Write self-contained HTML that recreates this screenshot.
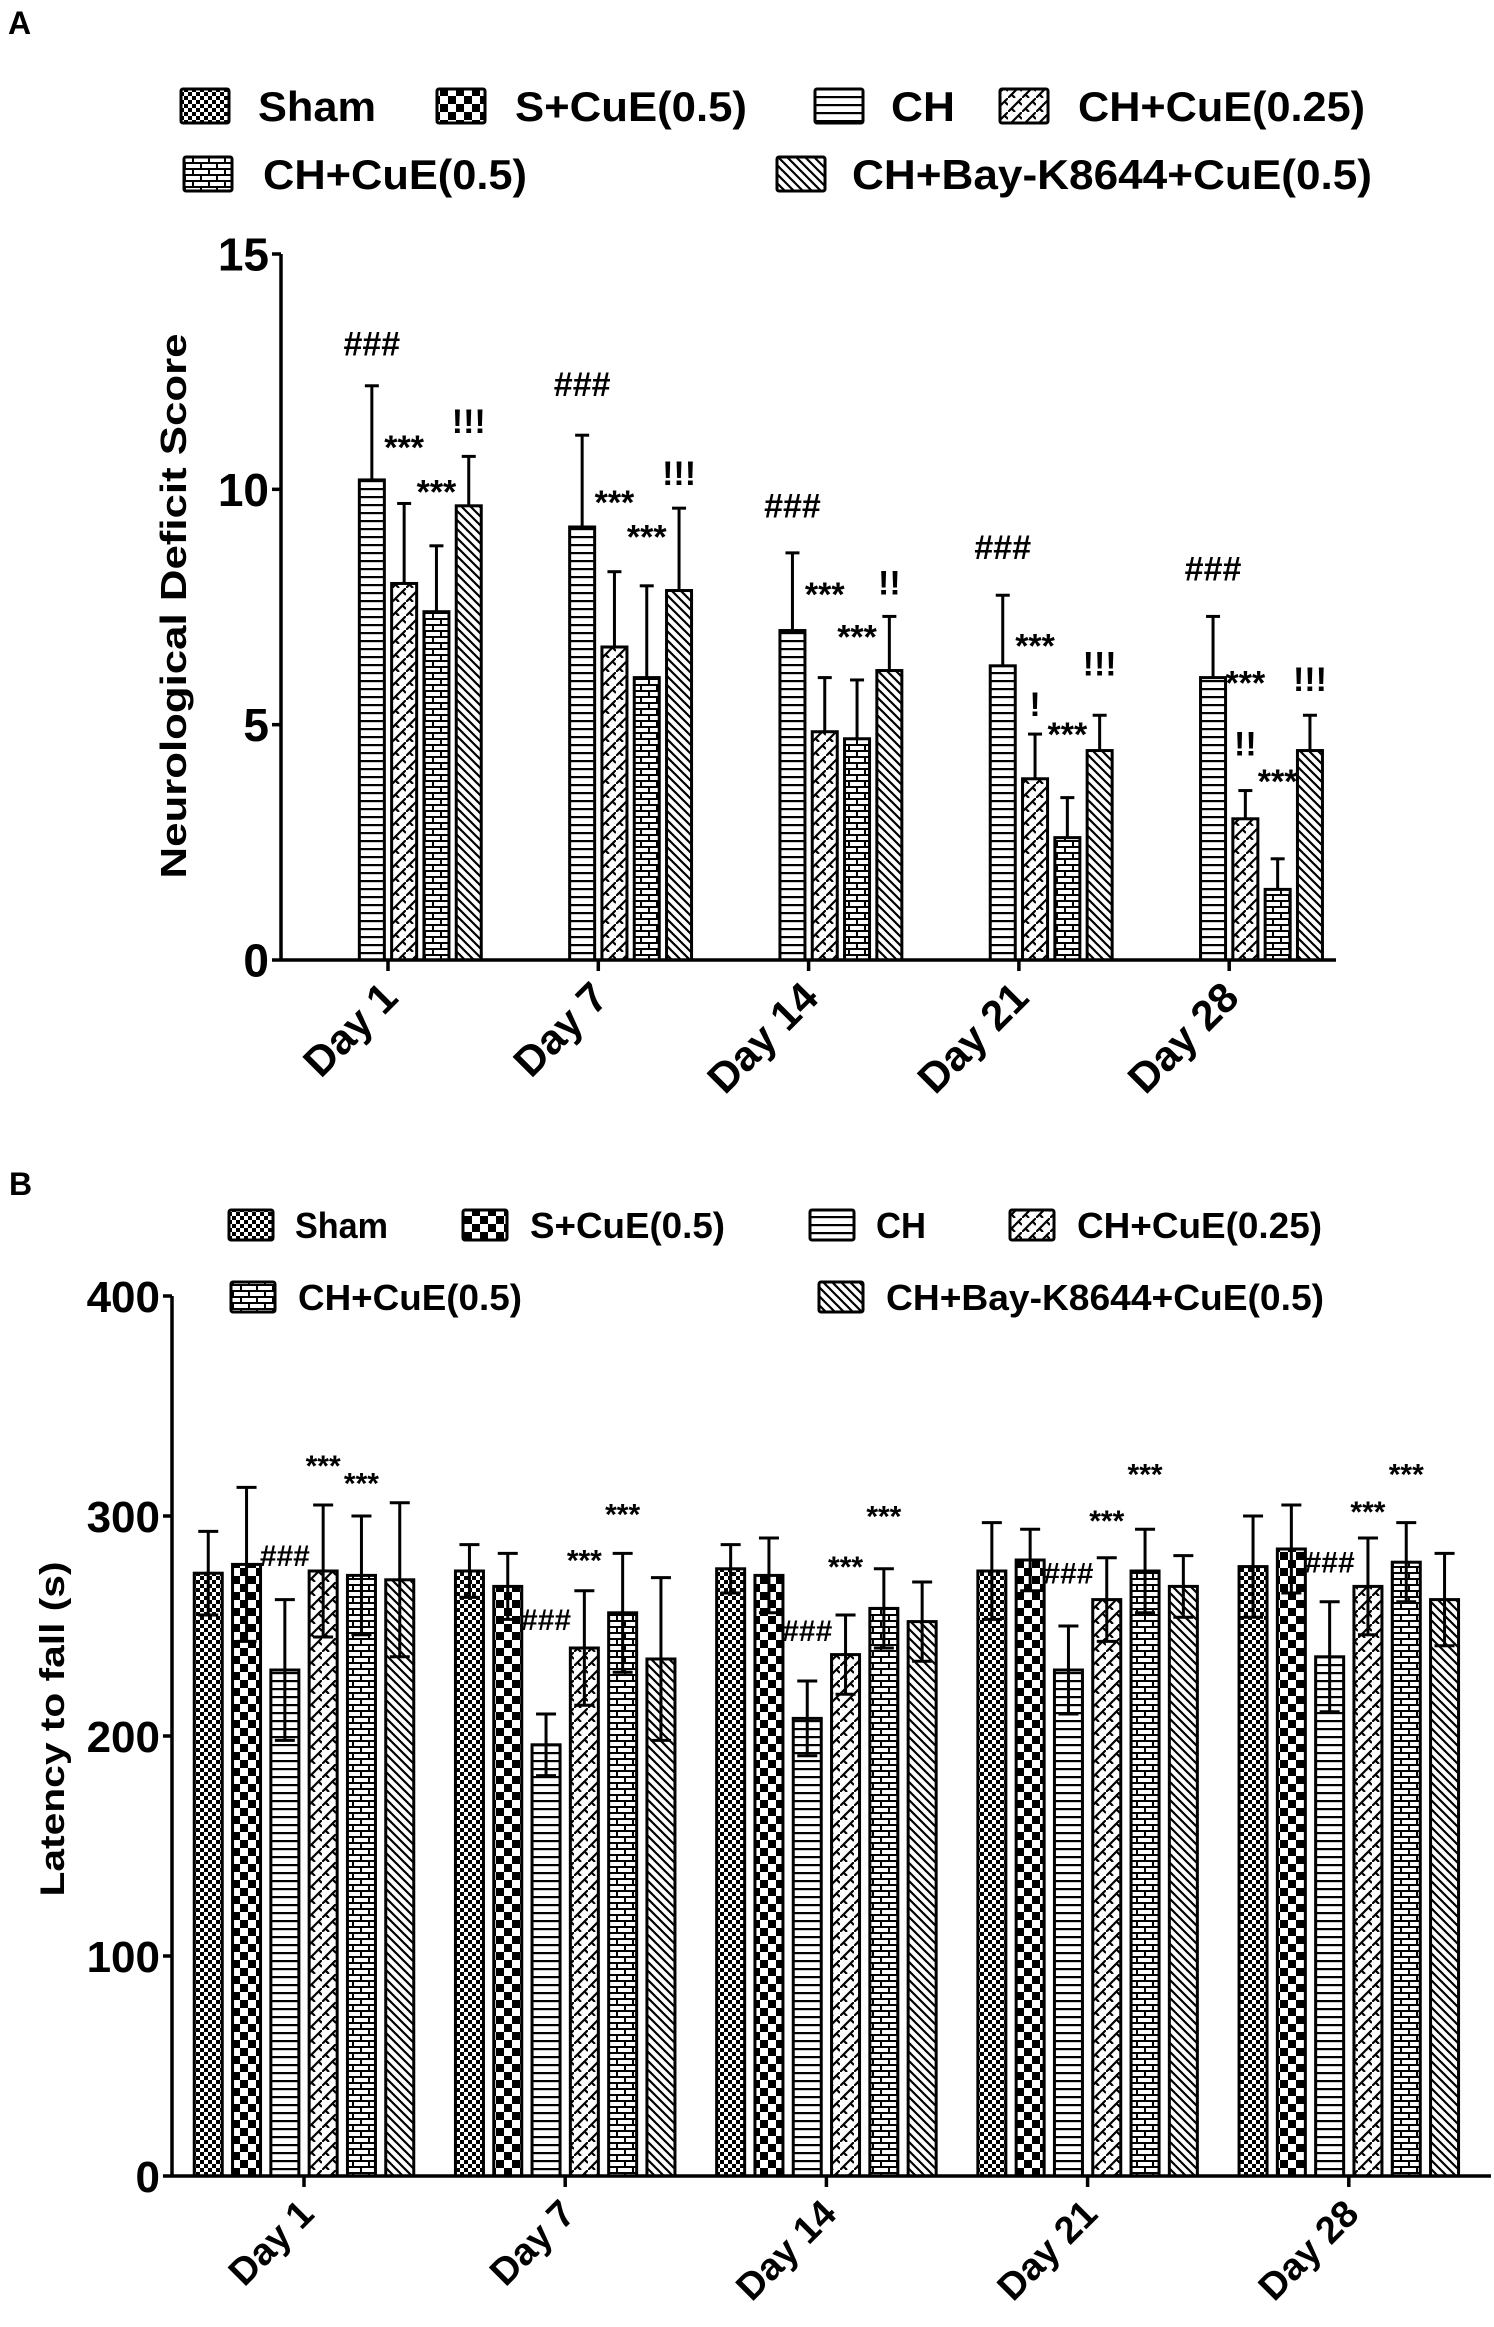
<!DOCTYPE html>
<html><head><meta charset="utf-8">
<style>
html,body{margin:0;padding:0;background:#fff;}
svg{display:block;}
text{font-family:"Liberation Sans",Arial,sans-serif;font-weight:bold;fill:#000;}
text.nar{font-family:"Liberation Sans Narrow","Liberation Sans",Arial,sans-serif;}
</style></head>
<body>
<svg id="chart" width="1494" height="2327" viewBox="0 0 1494 2327" xmlns="http://www.w3.org/2000/svg">
<defs>
<pattern id="p0" patternUnits="userSpaceOnUse" width="8" height="8"><rect width="8" height="8" fill="#fff"/><rect width="4" height="4" fill="#000"/><rect x="4" y="4" width="4" height="4" fill="#000"/></pattern>
<pattern id="p1" patternUnits="userSpaceOnUse" width="16" height="16"><rect width="16" height="16" fill="#fff"/><rect width="8" height="8" fill="#000"/><rect x="8" y="8" width="8" height="8" fill="#000"/></pattern>
<pattern id="p2" patternUnits="userSpaceOnUse" width="8" height="8"><rect width="8" height="8" fill="#fff"/><rect y="0" width="8" height="2.2" fill="#000"/></pattern>
<pattern id="p3" patternUnits="userSpaceOnUse" width="14" height="14"><rect width="14" height="14" fill="#fff"/><path d="M-2,16 L16,-2 M3,10 L7,14 M10,3 L14,7" stroke="#000" stroke-width="2.2"/></pattern>
<pattern id="p4" patternUnits="userSpaceOnUse" width="16" height="12"><rect width="16" height="12" fill="#fff"/><rect y="0" width="16" height="2" fill="#000"/><rect y="6" width="16" height="2" fill="#000"/><rect x="0" y="0" width="2" height="6" fill="#000"/><rect x="8" y="6" width="2" height="6" fill="#000"/></pattern>
<pattern id="p5" patternUnits="userSpaceOnUse" width="9" height="9"><rect width="9" height="9" fill="#fff"/><path d="M-2,-2 L11,11 M-2,7 L2,11 M7,-2 L11,2" stroke="#000" stroke-width="2.2"/></pattern>
</defs>
<g id="gA"></g>
<g id="gB"></g>
</svg>
<script>
const seriesNames = ["Sham","S+CuE(0.5)","CH","CH+CuE(0.25)","CH+CuE(0.5)","CH+Bay-K8644+CuE(0.5)"];
const categories = ["Day 1","Day 7","Day 14","Day 21","Day 28"];
// Panel A: neurological deficit score (Sham and S+CuE are 0)
const aSham = [0,0,0,0,0];
const aSCuE = [0,0,0,0,0];
const aCH = [10.2,9.2,7.0,6.25,6.0];
const aCuE025 = [8.0,6.65,4.85,3.85,3.0];
const aCuE05 = [7.4,6.0,4.7,2.6,1.5];
const aBay = [9.65,7.85,6.15,4.45,4.45];
const aErrCH = [2.0,1.95,1.65,1.5,1.3];
const aErrCuE025 = [1.7,1.6,1.15,0.95,0.6];
const aErrCuE05 = [1.4,1.95,1.25,0.85,0.65];
const aErrBay = [1.05,1.75,1.15,0.75,0.75];
const aTicks = [0,5,10,15];
// [category, series, y value, text]
const aAnnot = [[0,2,13.1,"###"],[0,3,10.9,"***"],[0,4,9.95,"***"],[0,5,11.45,"!!!"],
 [1,2,12.24,"###"],[1,3,9.73,"***"],[1,4,9.0,"***"],[1,5,10.35,"!!!"],
 [2,2,9.65,"###"],[2,3,7.77,"***"],[2,4,6.87,"***"],[2,5,8.02,"!!"],
 [3,2,8.77,"###"],[3,3,6.68,"***"],[3,3,5.44,"!"],[3,4,4.8,"***"],[3,5,6.3,"!!!"],
 [4,2,8.32,"###"],[4,3,5.89,"***"],[4,3,4.6,"!!"],[4,4,3.8,"***"],[4,5,5.97,"!!!"]];
// Panel B: latency to fall
const bSham = [274,275,276,275,277];
const bSCuE = [278,268,273,280,285];
const bCH = [230,196,208,230,236];
const bCuE025 = [275,240,237,262,268];
const bCuE05 = [273,256,258,275,279];
const bBay = [271,235,252,268,262];
const bErrSham = [19,12,11,22,23];
const bErrSCuE = [35,15,17,14,20];
const bErrCH = [32,14,17,20,25];
const bErrCuE025 = [30,26,18,19,22];
const bErrCuE05 = [27,27,18,19,18];
const bErrBay = [35,37,18,14,21];
const bTicks = [0,100,200,300,400];
const bAnnot = [[0,2,282,"###"],[0,3,323,"***"],[0,4,315,"***"],
 [1,2,253,"###"],[1,3,280,"***"],[1,4,301,"***"],
 [2,2,248,"###"],[2,3,277,"***"],[2,4,300,"***"],
 [3,2,274,"###"],[3,3,298,"***"],[3,4,319,"***"],
 [4,2,279,"###"],[4,3,302,"***"],[4,4,319,"***"]];

const NS="http://www.w3.org/2000/svg";
function mk(parent,tag,attrs,txt){const e=document.createElementNS(NS,tag);for(const k in attrs)e.setAttribute(k,attrs[k]);if(txt!==undefined)e.textContent=txt;parent.appendChild(e);return e;}

function drawPanel(g,cfg){
  const yS=v=>cfg.y0-(v-cfg.vmin)/(cfg.vmax-cfg.vmin)*(cfg.y0-cfg.y1);
  const xC=(c,s)=>cfg.firstTick+c*cfg.groupStep+(s-2.5)*cfg.slot;
  const L=mk(g,"text",{x:cfg.letter[0],y:cfg.letter[1],"font-size":cfg.letterSize});L.textContent=cfg.letterText;
  
  
  cfg.legend.forEach((it,i)=>{
    const lg=mk(g,"g",{});
    
    
    mk(lg,"rect",{x:it[0],y:it[1],width:cfg.lbW,height:cfg.lbH,fill:"url(#p"+i+")",stroke:"#000","stroke-width":3,rx:2});
    mk(lg,"text",{"class":"nar",x:it[2],y:it[1]+cfg.lbH/2+cfg.lfs*0.36,"font-size":cfg.lfs,textLength:it[3],lengthAdjust:"spacingAndGlyphs"},seriesNames[i]);
  });
  cfg.values.forEach((vals,s)=>{
    vals.forEach((v,c)=>{
      const x=xC(c,s),yt=yS(v),yb=yS(cfg.vmin);
      if(v>cfg.vmin){
        const b=mk(g,"rect",{x:x-cfg.barW/2,y:yt,width:cfg.barW,height:yb-yt,fill:"url(#p"+s+")",stroke:"#000","stroke-width":3});
        
        
      }
      const er=cfg.errs[s];
      if(er){
        const e=er[c];const ytop=yS(v+e);const ybot=cfg.sym?yS(v-e):yt;
        const eg=mk(g,"g",{stroke:"#000","stroke-width":3});
        
        
        mk(eg,"line",{x1:x,x2:x,y1:ytop,y2:ybot});
        mk(eg,"line",{x1:x-cfg.capW,x2:x+cfg.capW,y1:ytop,y2:ytop});
        if(cfg.sym)mk(eg,"line",{x1:x-cfg.capW,x2:x+cfg.capW,y1:ybot,y2:ybot});
      }
    });
  });
  cfg.annot.forEach(a=>{
    const t=mk(g,"text",{x:xC(a[0],a[1]),y:yS(a[2])+cfg.afs*0.35,"font-size":cfg.afs,"text-anchor":"middle"},a[3]);
    
    
  });
  const ax=mk(g,"g",{stroke:"#000","stroke-width":3.5,fill:"none"});
  
  
  mk(ax,"line",{x1:cfg.axX,x2:cfg.axX,y1:yS(cfg.vmax),y2:cfg.y0+1.5});
  mk(ax,"line",{x1:cfg.axX,x2:cfg.axEnd,y1:cfg.y0,y2:cfg.y0});
  cfg.ticks.forEach(t=>{
    mk(ax,"line",{x1:cfg.axX-9,x2:cfg.axX,y1:yS(t),y2:yS(t)});
    const tl=mk(g,"text",{"class":"nar",x:cfg.axX-12,y:yS(t)+cfg.tfs*0.36,"font-size":cfg.tfs,"text-anchor":"end"},String(t));
    
    
  });
  categories.forEach((c,i)=>{
    const x=cfg.firstTick+i*cfg.groupStep;
    mk(ax,"line",{x1:x,x2:x,y1:cfg.y0,y2:cfg.y0+11});
    const tl=mk(g,"text",{x:x+12,y:cfg.y0+40,"font-size":cfg.xfs,"text-anchor":"end",transform:"rotate(-45 "+(x+12)+" "+(cfg.y0+40)+")"},c);
    
    
  });
  const yl=mk(g,"text",{x:cfg.ylab[0],y:cfg.ylab[1],"font-size":cfg.ylfs,"text-anchor":"middle",transform:"rotate(-90 "+cfg.ylab[0]+" "+cfg.ylab[1]+")",textLength:cfg.ylab[2],lengthAdjust:"spacingAndGlyphs"},cfg.ylabText);
  
  
}

drawPanel(document.getElementById("gA"),{
  letterText:"A",letter:[8,34],letterSize:32,
  vmin:0,vmax:15,y0:960,y1:254,axX:281,axEnd:1336,
  firstTick:388,groupStep:210.3,slot:32.3,barW:25,capW:7,sym:false,
  values:[aSham,aSCuE,aCH,aCuE025,aCuE05,aBay],errs:[null,null,aErrCH,aErrCuE025,aErrCuE05,aErrBay],
  annot:aAnnot,afs:34,ticks:aTicks,tfs:46,xfs:42,
  ylab:[186,606,545],ylfs:36,ylabText:"Neurological Deficit Score",
  lbW:48,lbH:34,lfs:42,
  legend:[[181,89,258,118],[437,89,515,232],[815,89,891,64],[1000,89,1078,287],[184,157,263,264],[777,157,852,520]]
});
drawPanel(document.getElementById("gB"),{
  letterText:"B",letter:[9,1195],letterSize:32,
  vmin:0,vmax:400,y0:2176,y1:1296,axX:172,axEnd:1491,
  firstTick:304,groupStep:261.2,slot:38.3,barW:28,capW:10,sym:true,
  values:[bSham,bSCuE,bCH,bCuE025,bCuE05,bBay],errs:[bErrSham,bErrSCuE,bErrCH,bErrCuE025,bErrCuE05,bErrBay],
  annot:bAnnot,afs:30,ticks:bTicks,tfs:44,xfs:38,
  ylab:[64,1729,335],ylfs:34,ylabText:"Latency to fall (s)",
  lbW:44,lbH:30,lfs:36,
  legend:[[229,1210,295,93],[463,1210,530,195],[810,1210,876,50],[1010,1210,1077,245],[231,1282,298,224],[819,1282,886,438]]
});
</script>
</body></html>
